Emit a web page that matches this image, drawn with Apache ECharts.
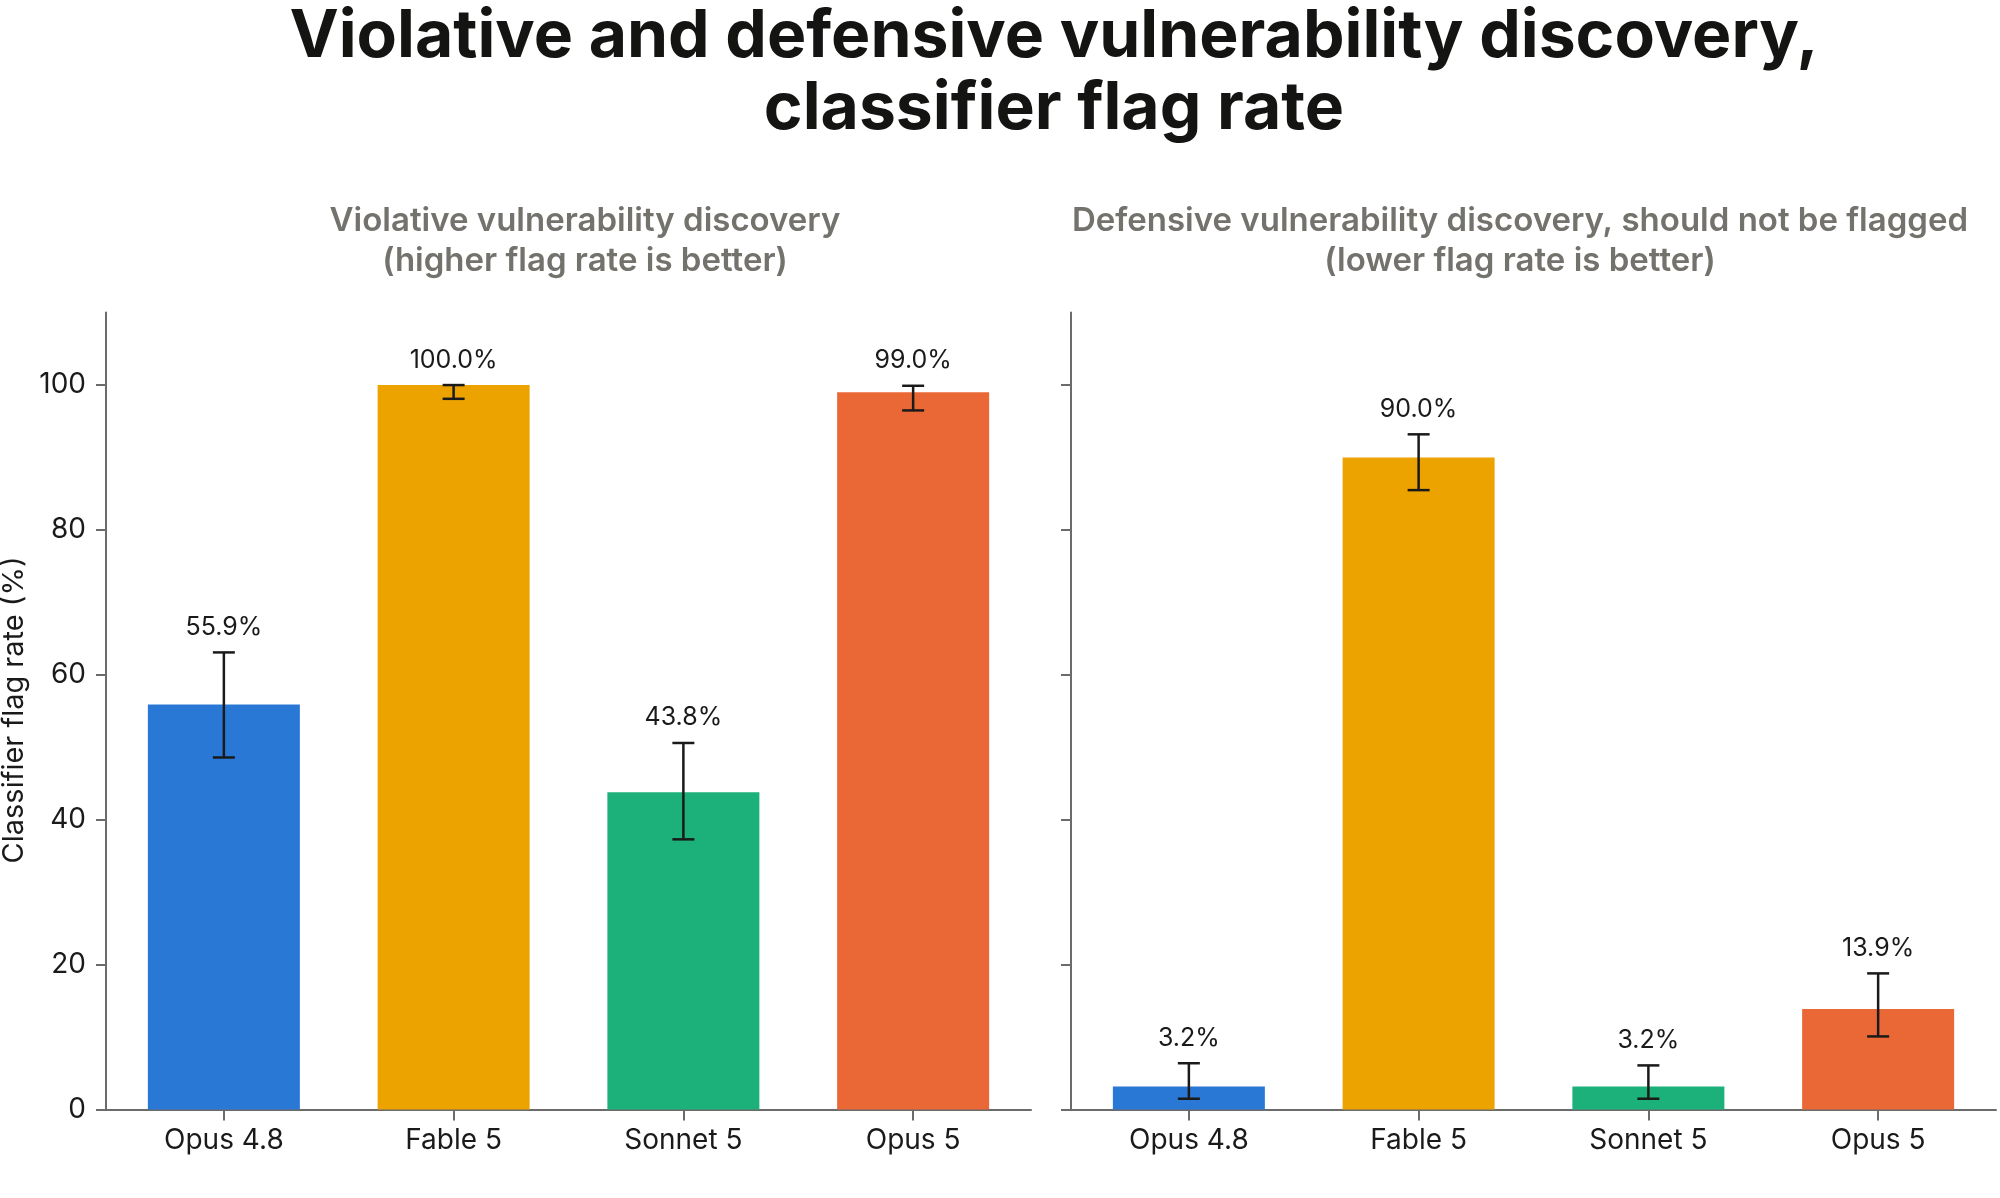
<!DOCTYPE html>
<html>
<head>
<meta charset="utf-8">
<script src="https://cdn.jsdelivr.net/npm/echarts@6/dist/echarts.min.js"></script>
<style>
html, body { margin: 0; padding: 0; background: #fff; }
#chart { width: 2000px; height: 1198px; }
</style>
</head>
<body>
<div id="chart"></div>
<script>
// data
var models = ['Opus 4.8', 'Fable 5', 'Sonnet 5', 'Opus 5'];
var barColors = ['#2a78d6', '#eca300', '#1cb07a', '#ea6836'];
var yTicks = [0, 20, 40, 60, 80, 100];
var xTicks = [0, 1, 2, 3];

var violativeRate = [55.9, 100.0, 43.8, 99.0];
var violativeLow = [48.6, 98.1, 37.3, 96.5];
var violativeHigh = [63.1, 100.0, 50.6, 99.9];

var defensiveRate = [3.2, 90.0, 3.2, 13.9];
var defensiveLow = [1.5, 85.5, 1.5, 10.1];
var defensiveHigh = [6.4, 93.2, 6.1, 18.8];

var FONT = 'Inter, "Noto Sans", sans-serif';
var INK = '#1a1a1a';
var AXIS = '#6b6b6b';
var SUB = '#74726c';

var myChart = echarts.init(document.getElementById('chart'));

function barData(values) {
    return values.map(function (v, i) {
        return { value: [i, v], itemStyle: { color: barColors[i] } };
    });
}

function errData(rate, low, high) {
    return rate.map(function (v, i) {
        return [i, low[i], high[i], v];
    });
}

// whisker + value label above the upper cap
function renderErrorBar(params, api) {
    var x = api.value(0);
    var lo = api.coord([x, api.value(1)]);
    var hi = api.coord([x, api.value(2)]);
    var half = 11;
    var st = { stroke: INK, lineWidth: 2.5 };
    return {
        type: 'group',
        children: [
            { type: 'line', shape: { x1: lo[0], y1: lo[1], x2: hi[0], y2: hi[1] }, style: st },
            { type: 'line', shape: { x1: lo[0] - half, y1: lo[1], x2: lo[0] + half, y2: lo[1] }, style: st },
            { type: 'line', shape: { x1: hi[0] - half, y1: hi[1], x2: hi[0] + half, y2: hi[1] }, style: st },
            {
                type: 'text',
                x: hi[0],
                y: hi[1] - 25,
                style: {
                    text: api.value(3).toFixed(1) + '%',
                    fill: INK,
                    font: '25px ' + FONT,
                    align: 'center',
                    verticalAlign: 'middle'
                }
            }
        ]
    };
}

function xAxisFor(gridIndex) {
    return {
        type: 'value',
        gridIndex: gridIndex,
        min: -0.513,
        max: 3.513,
        splitLine: { show: false },
        axisLine: { onZero: false, lineStyle: { color: AXIS, width: 2 } },
        axisTick: { length: 11, customValues: xTicks, lineStyle: { color: AXIS, width: 2 } },
        axisLabel: {
            customValues: xTicks,
            formatter: function (v) { return models[Math.round(v)]; },
            color: INK, fontSize: 28, fontFamily: FONT, margin: 17
        }
    };
}

function yAxisFor(gridIndex, showLabels) {
    return {
        type: 'value',
        gridIndex: gridIndex,
        min: 0,
        max: 110,
        interval: 20,
        splitLine: { show: false },
        axisLine: { show: true, onZero: false, lineStyle: { color: AXIS, width: 2 } },
        axisTick: { show: true, length: 10, customValues: yTicks, lineStyle: { color: AXIS, width: 2 } },
        axisLabel: {
            show: showLabels,
            customValues: yTicks,
            color: INK,
            fontSize: 28,
            fontFamily: FONT,
            margin: 20
        }
    };
}

var option = {
    animation: false,
    backgroundColor: '#ffffff',
    grid: [
        { left: 106, top: 312.6, width: 925, height: 797 },
        { left: 1071, top: 312.6, width: 925, height: 797 }
    ],
    xAxis: [xAxisFor(0), xAxisFor(1)],
    yAxis: [yAxisFor(0, true), yAxisFor(1, false)],
    graphic: [
        {
            type: 'text', x: 1054, y: 37,
            style: { text: 'Violative and defensive vulnerability discovery,', fill: '#141413',
                font: 'bold 66px ' + FONT, align: 'center', verticalAlign: 'middle' }
        },
        {
            type: 'text', x: 1054, y: 109,
            style: { text: 'classifier flag rate', fill: '#141413',
                font: 'bold 66px ' + FONT, align: 'center', verticalAlign: 'middle' }
        },
        {
            type: 'text', x: 585, y: 221,
            style: { text: 'Violative vulnerability discovery', fill: SUB,
                font: '600 33px ' + FONT, align: 'center', verticalAlign: 'middle' }
        },
        {
            type: 'text', x: 585, y: 261,
            style: { text: '(higher flag rate is better)', fill: SUB,
                font: '600 33px ' + FONT, align: 'center', verticalAlign: 'middle' }
        },
        {
            type: 'text', x: 1520, y: 221,
            style: { text: 'Defensive vulnerability discovery, should not be flagged', fill: SUB,
                font: '600 33px ' + FONT, align: 'center', verticalAlign: 'middle' }
        },
        {
            type: 'text', x: 1520, y: 261,
            style: { text: '(lower flag rate is better)', fill: SUB,
                font: '600 33px ' + FONT, align: 'center', verticalAlign: 'middle' }
        },
        {
            type: 'text', x: 14, y: 710, rotation: Math.PI / 2,
            style: { text: 'Classifier flag rate (%)', fill: INK,
                font: '29px ' + FONT, align: 'center', verticalAlign: 'middle' }
        }
    ],
    series: [
        {
            name: 'Violative', type: 'bar', xAxisIndex: 0, yAxisIndex: 0,
            barWidth: 152, data: barData(violativeRate)
        },
        {
            name: 'Violative error', type: 'custom', xAxisIndex: 0, yAxisIndex: 0,
            renderItem: renderErrorBar, data: errData(violativeRate, violativeLow, violativeHigh), z: 5
        },
        {
            name: 'Defensive', type: 'bar', xAxisIndex: 1, yAxisIndex: 1,
            barWidth: 152, data: barData(defensiveRate)
        },
        {
            name: 'Defensive error', type: 'custom', xAxisIndex: 1, yAxisIndex: 1,
            renderItem: renderErrorBar, data: errData(defensiveRate, defensiveLow, defensiveHigh), z: 5
        }
    ]
};

myChart.setOption(option);
</script>
</body>
</html>
